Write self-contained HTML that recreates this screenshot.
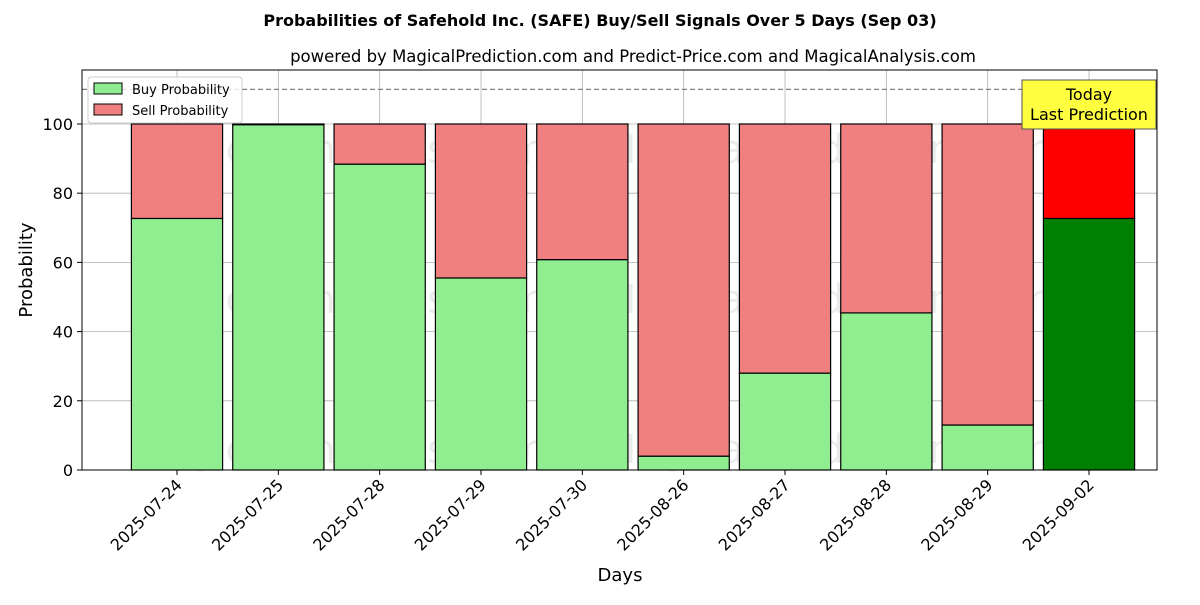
<!DOCTYPE html>
<html><head><meta charset="utf-8"><style>
body{margin:0;background:#fff;font-family:"Liberation Sans","DejaVu Sans",sans-serif}
svg text{font-family:"DejaVu Sans","Liberation Sans",sans-serif}
</style></head><body>
<svg id="chart" width="1200" height="600" xmlns="http://www.w3.org/2000/svg"></svg>
<script>
const categories=["2025-07-24","2025-07-25","2025-07-28","2025-07-29","2025-07-30","2025-08-26","2025-08-27","2025-08-28","2025-08-29","2025-09-02"];
const buyValues=[72.7,99.8,88.4,55.5,60.8,4.0,28.0,45.4,13.0,72.7];
const sellValues=buyValues.map(v=>100-v);
const yTicks=[0,20,40,60,80,100];
const L=82,R=1157,T=70,B=470;
const xMin=-0.9375,xMax=9.671,yMin=0,yMax=115.6;
const xs=i=>L+(i-xMin)/(xMax-xMin)*(R-L);
const ys=v=>B-(v-yMin)/(yMax-yMin)*(B-T);
const svg=document.getElementById('chart');
const NS="http://www.w3.org/2000/svg";
function add(tag,attrs,parent,text){const e=document.createElementNS(NS,tag);for(const k in attrs)e.setAttribute(k,attrs[k]);if(text!==undefined)e.textContent=text;(parent||svg).appendChild(e);return e;}
const grid=add('g',{});

yTicks.forEach(t=>add('line',{x1:L,x2:R,y1:ys(t),y2:ys(t),stroke:'#b0b0b0','stroke-width':0.8},grid));
categories.forEach((c,i)=>add('line',{x1:xs(i),x2:xs(i),y1:T,y2:B,stroke:'#b0b0b0','stroke-width':0.8},grid));
const wm=add('g',{fill:'#000','fill-opacity':0.08,'font-size':40});

[[130,163,"MagicalAnalysis.com"],[602,163,"MagicalPrediction.com"],[130,313,"MagicalAnalysis.com"],[602,313,"MagicalPrediction.com"],[130,463,"MagicalAnalysis.com"],[602,463,"MagicalPrediction.com"]].forEach(w=>add('text',{x:w[0],y:w[1]},wm,w[2]));
const bw=0.9*(xs(1)-xs(0));
categories.forEach((c,i)=>{
  const last=i===categories.length-1;
  const b=add('rect',{x:xs(i)-bw/2,y:ys(buyValues[i]),width:bw,height:ys(0)-ys(buyValues[i]),fill:last?'#008000':'#90ee90',stroke:'#000','stroke-width':1.2});
  
  const s=add('rect',{x:xs(i)-bw/2,y:ys(buyValues[i]+sellValues[i]),width:bw,height:ys(buyValues[i])-ys(buyValues[i]+sellValues[i]),fill:last?'#ff0000':'#f08080',stroke:'#000','stroke-width':1.2});
  
});
const dl=add('line',{x1:L,x2:R,y1:ys(110),y2:ys(110),stroke:'#808080','stroke-width':1.2,'stroke-dasharray':'5,3'});

const fr=add('rect',{x:L,y:T,width:R-L,height:B-T,fill:'none',stroke:'#000','stroke-width':1});

yTicks.forEach(t=>{add('line',{x1:L-5,x2:L,y1:ys(t),y2:ys(t),stroke:'#000'});
  const tx=add('text',{x:L-9,y:ys(t)+6,'text-anchor':'end','font-size':16},svg,String(t));
  });
categories.forEach((c,i)=>{add('line',{x1:xs(i),x2:xs(i),y1:B,y2:B+5,stroke:'#000'});
  const tx=add('text',{x:xs(i)+6,y:B+16,'text-anchor':'end','font-size':16,transform:`rotate(-45 ${xs(i)+6} ${B+16})`},svg,c);
  });
let t;
t=add('text',{x:600,y:26,'text-anchor':'middle','font-size':16,'font-weight':'bold'},svg,'Probabilities of Safehold Inc. (SAFE) Buy/Sell Signals Over 5 Days (Sep 03)');
t=add('text',{x:633,y:62,'text-anchor':'middle','font-size':16.5},svg,'powered by MagicalPrediction.com and Predict-Price.com and MagicalAnalysis.com');
t=add('text',{x:620,y:581,'text-anchor':'middle','font-size':18},svg,'Days');
t=add('text',{x:32,y:270,'text-anchor':'middle','font-size':18,transform:'rotate(-90 32 270)'},svg,'Probability');
const tb=add('g',{});
add('rect',{x:1022,y:80,width:134,height:49,fill:'#ffff40',stroke:'#555','stroke-width':1},tb);
add('text',{x:1089,y:100,'text-anchor':'middle','font-size':16},tb,'Today');
add('text',{x:1089,y:120,'text-anchor':'middle','font-size':16},tb,'Last Prediction');
const lg=add('g',{});
add('rect',{x:88,y:77,width:154,height:46,fill:'#fff','fill-opacity':0.8,stroke:'#ccc',rx:3},lg);
const e1=add('g',{},lg);
add('rect',{x:94,y:83,width:28,height:11,fill:'#90ee90',stroke:'#000'},e1);
add('text',{x:132,y:94,'font-size':13},e1,'Buy Probability');
const e2=add('g',{},lg);
add('rect',{x:94,y:104,width:28,height:11,fill:'#f08080',stroke:'#000'},e2);
add('text',{x:132,y:115,'font-size':13},e2,'Sell Probability');
</script>
</body></html>
